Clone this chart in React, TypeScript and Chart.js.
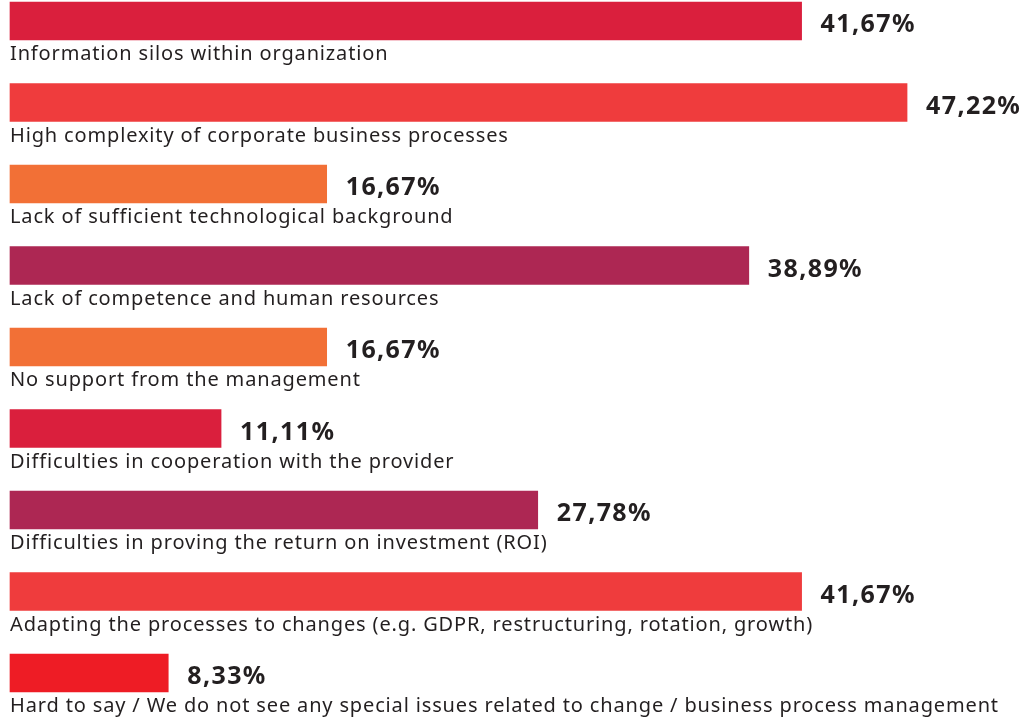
import React, { useEffect, useRef } from "react";
import { Chart, registerables } from "chart.js";

Chart.register(...registerables);

const categories: string[] = [
  "Information silos within organization",
  "High complexity of corporate business processes",
  "Lack of sufficient technological background",
  "Lack of competence and human resources",
  "No support from the management",
  "Difficulties in cooperation with the provider",
  "Difficulties in proving the return on investment (ROI)",
  "Adapting the processes to changes (e.g. GDPR, restructuring, rotation, growth)",
  "Hard to say / We do not see any special issues related to change / business process management",
];

const values: number[] = [41.67, 47.22, 16.67, 38.89, 16.67, 11.11, 27.78, 41.67, 8.33];

const barColors: string[] = [
  "#DA1F3D",
  "#EF3C3D",
  "#F27036",
  "#AD2753",
  "#F27036",
  "#DA1F3D",
  "#AD2753",
  "#EF3C3D",
  "#EE1C25",
];

const TEXT = "#231F20";
const FONT = "'Noto Sans', 'Open Sans', sans-serif";

const labelsPlugin = {
  id: "barLabels",
  afterDatasetsDraw(chart: any) {
    const ctx = chart.ctx;
    const meta = chart.getDatasetMeta(0);
    ctx.save();
    meta.data.forEach((bar: any, i: number) => {
      const props = bar.getProps(["x", "y", "base", "height"], true);
      const left = props.base;
      const bottom = props.y + props.height / 2;
      ctx.fillStyle = TEXT;
      ctx.textAlign = "left";
      ctx.textBaseline = "alphabetic";
      ctx.font = `400 20px ${FONT}`;
      (ctx as any).letterSpacing = "0.85px";
      ctx.fillText(categories[i], left, bottom + 20);
      ctx.font = `700 25px ${FONT}`;
      (ctx as any).letterSpacing = "1.4px";
      ctx.textBaseline = "middle";
      const txt = values[i].toFixed(2).replace(".", ",") + "%";
      ctx.fillText(txt, props.x + 19, props.y + 4);
    });
    (ctx as any).letterSpacing = "0px";
    ctx.restore();
  },
};

export default function App() {
  const ref = useRef<HTMLCanvasElement | null>(null);
  useEffect(() => {
    if (!ref.current) return;
    const chart = new Chart(ref.current, {
      type: "bar",
      data: {
        labels: categories,
        datasets: [
          {
            data: values,
            backgroundColor: barColors,
            barThickness: 38,
            clip: false as any,
            borderWidth: 0,
          },
        ],
      },
      options: {
        indexAxis: "y",
        animation: false,
        responsive: false,
        maintainAspectRatio: false,
        layout: { padding: { left: 10, right: 10, top: 21, bottom: 47 } },
        plugins: { legend: { display: false }, tooltip: { enabled: false } },
        scales: {
          x: {
            display: false,
            min: 0,
            max: 52.85,
            grid: { display: false },
          },
          y: {
            display: false,
            offset: false,
            grid: { display: false },
          },
        },
      },
      plugins: [labelsPlugin],
    });
    return () => chart.destroy();
  }, []);
  return (
    <div style={{ position: "fixed", left: 0, top: 0, width: 1024, height: 720, background: "#fff" }}>
      <canvas ref={ref} width={1024} height={720} style={{ width: 1024, height: 720 }} />
    </div>
  );
}
